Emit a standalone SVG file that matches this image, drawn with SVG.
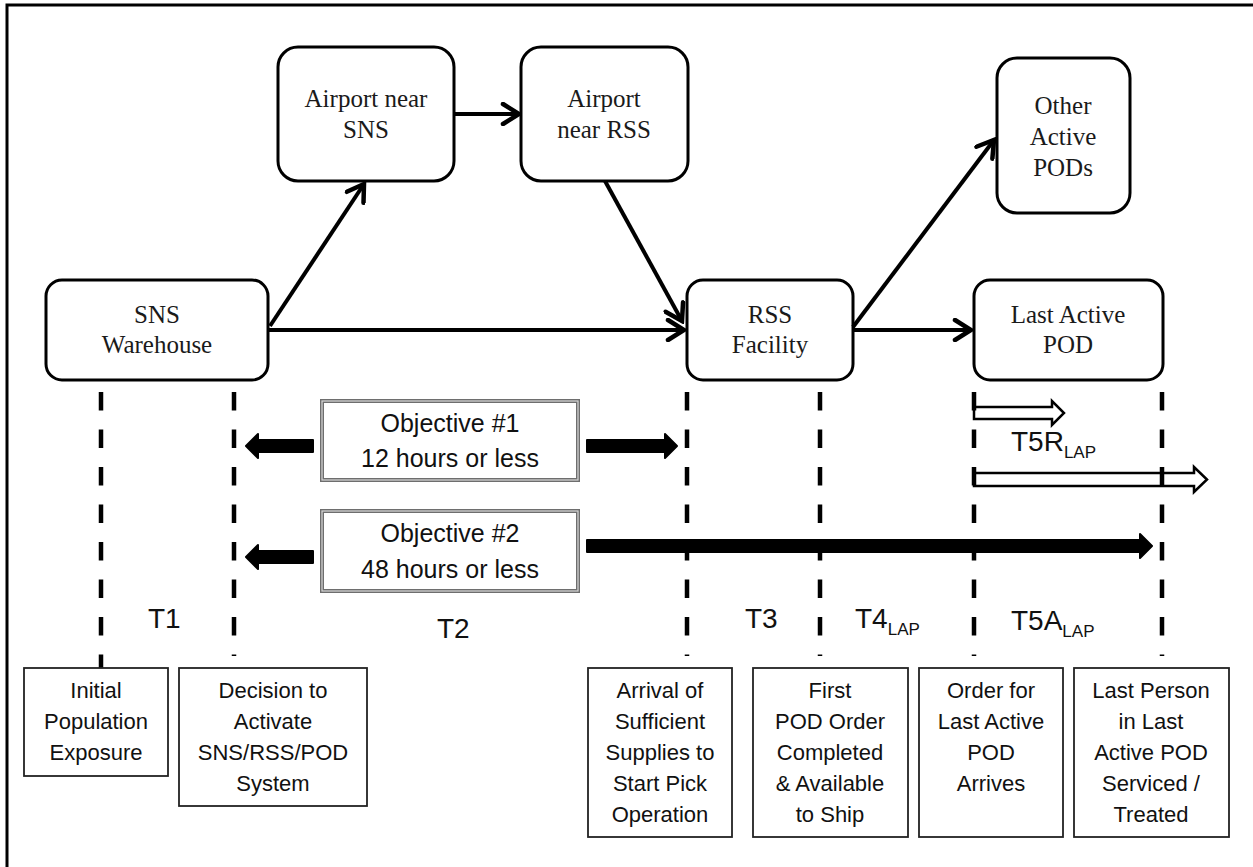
<svg xmlns="http://www.w3.org/2000/svg" width="1253" height="867" viewBox="0 0 1253 867">
  <style>
    .node rect { fill: #fff; stroke: #000; stroke-width: 3; }
    .node text { font-family: "Liberation Serif", "Times New Roman", serif; font-size: 25px; fill: #1a1a1a; text-anchor: middle; }
    .conn { fill: none; stroke: #000; stroke-width: 4; marker-end: url(#chev); }
    .dash { fill: none; stroke: #000; stroke-width: 4.5; stroke-dasharray: 18.5 19; }
    .event rect { fill: #fff; stroke: #222; stroke-width: 1.8; }
    .event text { font-family: "Liberation Sans", Arial, sans-serif; font-size: 22px; fill: #111; text-anchor: middle; }
    .obj .outer { fill: #fff; stroke: #6e6e6e; stroke-width: 4; }
    .obj .inner { fill: none; stroke: #d8d8d8; stroke-width: 1.2; }
    .obj text { font-family: "Liberation Sans", Arial, sans-serif; font-size: 25px; fill: #111; text-anchor: middle; }
    .block { fill: #000; stroke: #000; stroke-width: 2; stroke-linejoin: round; }
    .hollow { fill: #fff; stroke: #000; stroke-width: 2.5; stroke-linejoin: miter; }
    .tlabel { font-family: "Liberation Sans", Arial, sans-serif; font-size: 28px; fill: #111; }
    .sub { font-size: 17px; }
  </style>
  <defs>
    <marker id="chev" viewBox="0 0 24 24" refX="21" refY="12" markerWidth="24" markerHeight="24" orient="auto" markerUnits="userSpaceOnUse">
      <path d="M5,2 L21,12 L5,22" fill="none" stroke="#000" stroke-width="4.5" stroke-linecap="round"/>
    </marker>
  </defs>

  <rect width="1253" height="867" fill="#fff"/>
  <!-- frame: top and left edges -->
  <path d="M7,867 L7,5 L1253,5" fill="none" stroke="#000" stroke-width="3"/>

  <!-- flow nodes -->
  <g id="sns-warehouse" class="node">
    <rect x="46" y="280" width="222" height="100" rx="16"/>
    <text x="157" y="323">SNS</text>
    <text x="157" y="353">Warehouse</text>
  </g>
  <g id="airport-sns" class="node">
    <rect x="278" y="47" width="176" height="134" rx="20"/>
    <text x="366" y="107">Airport near</text>
    <text x="366" y="138">SNS</text>
  </g>
  <g id="airport-rss" class="node">
    <rect x="521" y="47" width="167" height="134" rx="20"/>
    <text x="604" y="107">Airport</text>
    <text x="604" y="138">near RSS</text>
  </g>
  <g id="rss-facility" class="node">
    <rect x="687" y="280" width="166" height="100" rx="16"/>
    <text x="770" y="323">RSS</text>
    <text x="770" y="353">Facility</text>
  </g>
  <g id="other-pods" class="node">
    <rect x="997" y="58" width="133" height="155" rx="20"/>
    <text x="1063" y="114">Other</text>
    <text x="1063" y="145">Active</text>
    <text x="1063" y="176">PODs</text>
  </g>
  <g id="last-pod" class="node">
    <rect x="974" y="280" width="189" height="100" rx="16"/>
    <text x="1068" y="323">Last Active</text>
    <text x="1068" y="353">POD</text>
  </g>

  <!-- flow connectors -->
  <g id="connectors">
    <path class="conn" d="M268,330 L684,330"/>
    <path class="conn" d="M270,326 L364,184"/>
    <path class="conn" d="M454,114 L519,114"/>
    <path class="conn" d="M605,181 L682,321"/>
    <path class="conn" d="M853,327 L994,140"/>
    <path class="conn" d="M853,330 L971,330"/>
  </g>

  <!-- objective spans -->
  <g id="objective-1" class="obj">
    <rect class="outer" x="322" y="401" width="256" height="79"/>
    <rect class="inner" x="322" y="401" width="256" height="79"/>
    <text x="450" y="432">Objective #1</text>
    <text x="450" y="467">12 hours or less</text>
  </g>
  <g id="objective-2" class="obj">
    <rect class="outer" x="322" y="511" width="256" height="80"/>
    <rect class="inner" x="322" y="511" width="256" height="80"/>
    <text x="450" y="542">Objective #2</text>
    <text x="450" y="578">48 hours or less</text>
  </g>

  <g id="span-arrows">
    <!-- objective 1 -->
    <path class="block" d="M313,440 L258,440 L258,434 L246,446 L258,458 L258,452 L313,452 Z"/>
    <path class="block" d="M587,440 L665,440 L665,434 L677,446 L665,458 L665,452 L587,452 Z"/>
    <!-- objective 2 -->
    <path class="block" d="M313,551 L258,551 L258,545 L246,557 L258,569 L258,563 L313,563 Z"/>
    <path class="block" d="M587,540 L1140,540 L1140,534 L1152,546 L1140,558 L1140,552 L587,552 Z"/>
    <!-- T5R and T5A spans -->
    <path class="hollow" d="M974,407 L1052,407 L1052,401 L1064,413 L1052,425 L1052,419 L974,419 Z"/>
    <path class="hollow" d="M974,473 L1194,473 L1194,467 L1207,479.5 L1194,492 L1194,486 L974,486 Z"/>
  </g>

  <!-- milestone guides -->
  <g id="milestone-lines">
    <path class="dash" d="M101,392 L101,668"/>
    <path class="dash" d="M234,392 L234,656"/>
    <path class="dash" d="M687,392 L687,656"/>
    <path class="dash" d="M820,392 L820,656"/>
    <path class="dash" d="M974,392 L974,656"/>
    <path class="dash" d="M1162,392 L1162,656"/>
  </g>

  <!-- interval labels -->
  <g id="interval-labels">
    <text class="tlabel" x="148" y="628">T1</text>
    <text class="tlabel" x="437" y="638">T2</text>
    <text class="tlabel" x="745" y="628">T3</text>
    <text class="tlabel" x="855" y="628">T4<tspan class="sub" dy="7">LAP</tspan></text>
    <text class="tlabel" x="1011" y="451">T5R<tspan class="sub" dy="7">LAP</tspan></text>
    <text class="tlabel" x="1011" y="630">T5A<tspan class="sub" dy="7">LAP</tspan></text>
  </g>

  <!-- milestone events -->
  <g id="event-exposure" class="event">
    <rect x="24" y="668" width="144" height="108"/>
    <text x="96" y="698">Initial</text>
    <text x="96" y="729">Population</text>
    <text x="96" y="760">Exposure</text>
  </g>
  <g id="event-decision" class="event">
    <rect x="179" y="668" width="188" height="138"/>
    <text x="273" y="698">Decision to</text>
    <text x="273" y="729">Activate</text>
    <text x="273" y="760">SNS/RSS/POD</text>
    <text x="273" y="791">System</text>
  </g>
  <g id="event-arrival" class="event">
    <rect x="588" y="668" width="144" height="169"/>
    <text x="660" y="698">Arrival of</text>
    <text x="660" y="729">Sufficient</text>
    <text x="660" y="760">Supplies to</text>
    <text x="660" y="791">Start Pick</text>
    <text x="660" y="822">Operation</text>
  </g>
  <g id="event-first-order" class="event">
    <rect x="753" y="668" width="155" height="169"/>
    <text x="830" y="698">First</text>
    <text x="830" y="729">POD Order</text>
    <text x="830" y="760">Completed</text>
    <text x="830" y="791">&amp; Available</text>
    <text x="830" y="822">to Ship</text>
  </g>
  <g id="event-last-order" class="event">
    <rect x="919" y="668" width="144" height="169"/>
    <text x="991" y="698">Order for</text>
    <text x="991" y="729">Last Active</text>
    <text x="991" y="760">POD</text>
    <text x="991" y="791">Arrives</text>
  </g>
  <g id="event-last-person" class="event">
    <rect x="1074" y="668" width="155" height="169"/>
    <text x="1151" y="698">Last Person</text>
    <text x="1151" y="729">in Last</text>
    <text x="1151" y="760">Active POD</text>
    <text x="1151" y="791">Serviced /</text>
    <text x="1151" y="822">Treated</text>
  </g>
</svg>
